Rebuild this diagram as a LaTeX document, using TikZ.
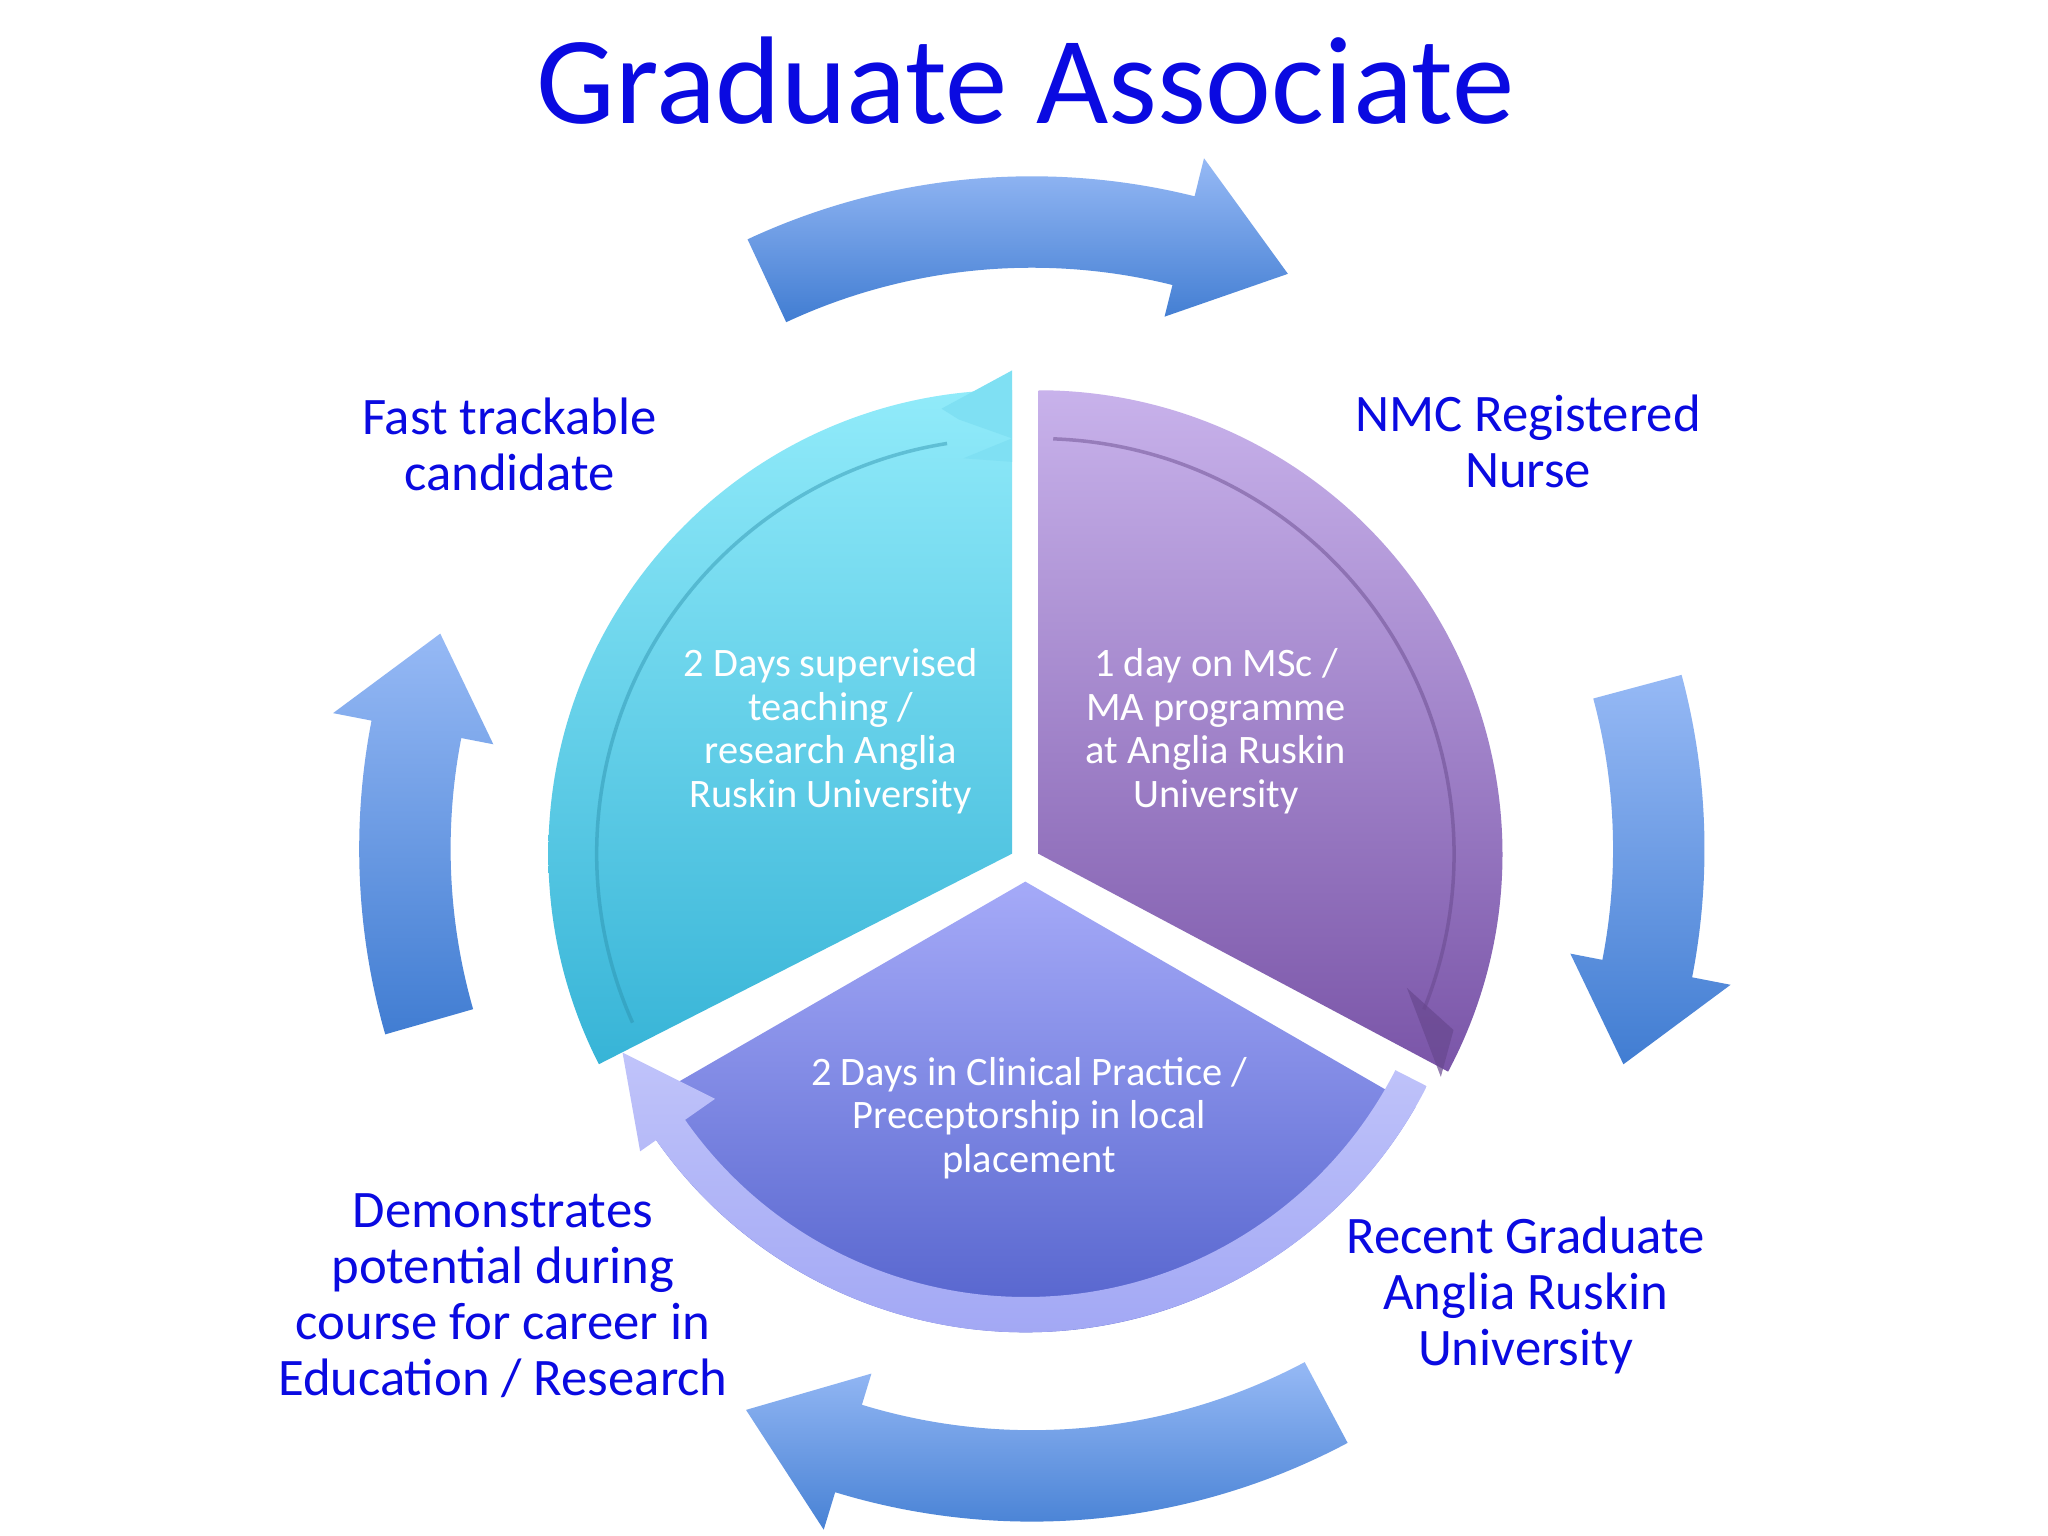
\documentclass[tikz,border=0pt]{standalone}
\usepackage{fontspec}
\setmainfont{Carlito}
\definecolor{ttl}{RGB}{10,10,225}
\definecolor{arL}{RGB}{150,185,245}
\definecolor{arD}{RGB}{65,125,210}
\definecolor{cyL}{RGB}{145,235,250}
\definecolor{cyD}{RGB}{55,180,215}
\definecolor{puL}{RGB}{200,178,235}
\definecolor{puD}{RGB}{122,85,168}
\definecolor{bvL}{RGB}{165,170,248}
\definecolor{bvD}{RGB}{72,88,198}
\tikzset{
 lbl/.style={text=ttl,align=center,font=\fontsize{15}{16}\selectfont},
 inner/.style={text=white,align=center,font=\fontsize{11.5}{12.4}\selectfont},
}
\newcommand\outarrow[3]{%
 \shade[top color=arL,bottom color=arD] (#1:515) arc[start angle=#1,end angle=#3,radius=515] -- (#3:545) -- (#2:482) -- (#3:420) -- (#3:445) arc[start angle=#3,end angle=#1,radius=445] -- cycle;}
\begin{document}
\begin{tikzpicture}[x=0.01306cm,y=0.01306cm]
\useasboundingbox[fill=white] (0,0) rectangle (1568,1176);
\node[text=ttl,font=\fontsize{35.5}{40}\selectfont] (title) at (785,1114) {Graduate Associate};
\begin{scope}[shift={(790,526)}]
 \outarrow{115}{66}{76}
 \outarrow{15}{-20}{-11}
 \outarrow{-62}{-117}{-107}
 \outarrow{196}{160}{169}
\end{scope}
\begin{scope}[shift={(785,516)}]
 \begin{scope}[shift={(148:12)}]
  \shade[top color=cyL,bottom color=cyD] (0,0) -- (90:355) arc[start angle=90,end angle=207,radius=355] -- cycle;
  \draw[cyD!80!black,opacity=0.45,line width=1pt] (204:318) arc[start angle=204,end angle=99,radius=318];
  \fill[cyL!80!cyD] (97:305) -- (90:318) -- (97:335) -- (99:345) -- (90:370) -- (90:300) -- cycle;
 \end{scope}
 \begin{scope}[shift={(31:12)}]
  \shade[top color=puL,bottom color=puD] (0,0) -- (-28:355) arc[start angle=-28,end angle=90,radius=355] -- cycle;
  \draw[puD!80!black,opacity=0.45,line width=1pt] (88:318) arc[start angle=88,end angle=-22,radius=318];
  \fill[puD!85!black,opacity=0.7] (-20:300) -- (-29:352) -- (-23:345) -- cycle;
 \end{scope}
 \begin{scope}[shift={(270:15)}]
  \shade[top color=bvL,bottom color=bvD] (0,0) -- (210:345) arc[start angle=210,end angle=330,radius=345] -- cycle;
  \shade[top color=bvL!70!white,bottom color=bvL!90!bvD] (333:345) arc[start angle=333,end angle=215,radius=345] -- (215:360) -- (203:335) -- (215:290) -- (215:318) arc[start angle=215,end angle=333,radius=318] -- cycle;
 \end{scope}
\end{scope}
\node[lbl] (fast) at (390,836) {Fast trackable\\candidate};
\node[lbl] (nmc) at (1170,838) {NMC Registered\\Nurse};
\node[lbl] (recent) at (1168,184) {Recent Graduate\\Anglia Ruskin\\University};
\node[lbl] (demo) at (385,184) {Demonstrates\\potential during\\course for career in\\Education / Research};
\node[inner] (t1) at (636,616) {2 Days supervised\\teaching /\\research Anglia\\Ruskin University};
\node[inner] (t2) at (931,616) {1 day on MSc /\\MA programme\\at Anglia Ruskin\\University};
\node[inner] (t3) at (788,320) {2 Days in Clinical Practice /\\Preceptorship in local\\placement};
\end{tikzpicture}
\end{document}
